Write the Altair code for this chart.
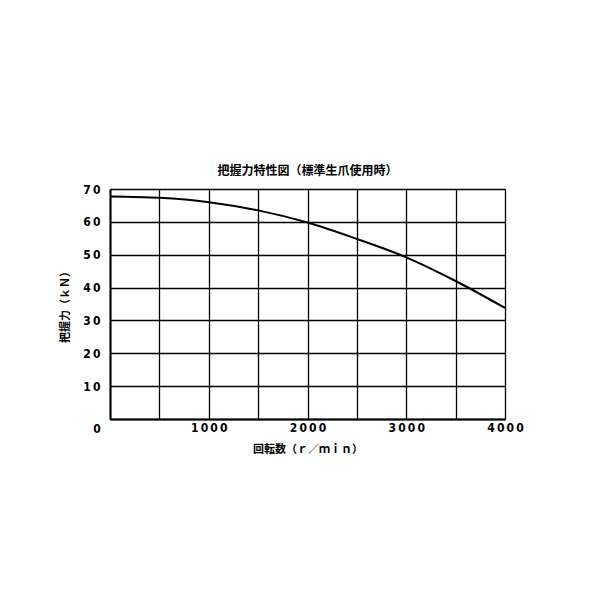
import altair as alt
import pandas as pd

rpm = [0, 500, 1000, 1500, 2000, 2500, 3000, 3500, 4000]
force = [67.7, 67.3, 66.0, 63.5, 59.8, 54.8, 49.2, 42.0, 33.8]
x_grid = [0, 500, 1000, 1500, 2000, 2500, 3000, 3500, 4000]
y_grid = [0, 10, 20, 30, 40, 50, 60, 70]
title_text = "把握力特性図（標準生爪使用時）"
x_title = "回転数（ｒ／ｍｉｎ）"
y_title = "把握力（ｋＮ）"
origin_label = ["0"]

df = pd.DataFrame({"rpm": rpm, "force": force})
origin = pd.DataFrame({"rpm": [0], "force": [0], "lab": origin_label})

LABEL_FONT = "DejaVu Sans Condensed"
CJK = "Noto Sans CJK JP"
spaced = "join(split(datum.label, ''), '\u2009')"

x_enc = alt.X(
    "rpm:Q",
    scale=alt.Scale(domain=[0, 4000], nice=False),
    axis=alt.Axis(
        values=x_grid, format="d",
        title=x_title,
        labelExpr=f"datum.value % 1000 == 0 && datum.value > 0 ? {spaced} : ''",
        grid=True, gridColor="black", gridWidth=1.3, gridOpacity=1,
        domainColor="black", domainWidth=2, ticks=False,
        labelFont=LABEL_FONT, labelFontSize=12, labelFontWeight=600, labelColor="black",
        labelPadding=3, labelFlush=False, labelOverlap=False,
        titleFont=CJK, titleFontSize=11, titleFontWeight="bold", titleColor="black",
        titlePadding=10,
    ),
)
y_enc = alt.Y(
    "force:Q",
    scale=alt.Scale(domain=[0, 70], nice=False),
    axis=alt.Axis(
        values=y_grid, format="d",
        title=y_title,
        labelExpr=f"datum.value > 0 ? {spaced} : ''",
        grid=True, gridColor="black", gridWidth=1.3, gridOpacity=1,
        domainColor="black", domainWidth=2, ticks=False,
        labelFont=LABEL_FONT, labelFontSize=12, labelFontWeight=600, labelColor="black",
        labelPadding=10, labelFlush=False, labelOverlap=False,
        titleFont=CJK, titleFontSize=11, titleFontWeight="bold", titleColor="black",
        titleX=-40, titleY=115,
    ),
)

line = alt.Chart(df).mark_line(color="black", strokeWidth=2, interpolate="monotone")
zero = alt.Chart(origin).mark_text(
    font=LABEL_FONT, fontSize=12, fontWeight=600, color="black", dx=-13, dy=10
).encode(text="lab:N")

chart = alt.layer(line, zero).encode(x=x_enc, y=y_enc).properties(
    width=395, height=230,
    title=alt.TitleParams(title_text, font=CJK, fontSize=12, fontWeight="bold", color="black", offset=5, anchor="middle"),
    autosize=alt.AutoSizeParams(type="none"),
    padding={"left": 102, "top": 181, "right": 80, "bottom": 160},
).configure_view(stroke=None)

chart.save("out.html", embed_options={"renderer": "svg", "actions": False})
